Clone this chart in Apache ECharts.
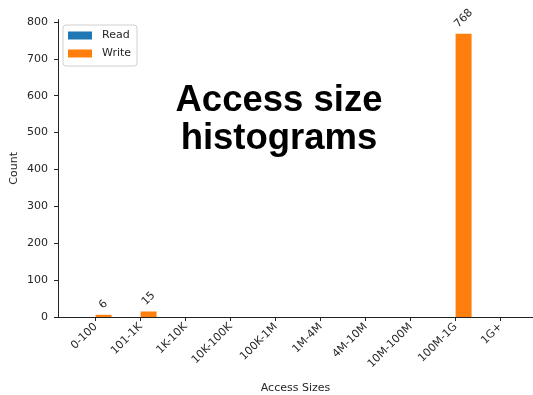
<!DOCTYPE html>
<html>
<head>
<meta charset="utf-8">
<script src="https://cdn.jsdelivr.net/npm/echarts@6/dist/echarts.min.js"></script>
<style>
    html, body {margin: 0; padding: 0; background: #fff;}
    #main {width: 533px; height: 395px;}
</style>
</head>
<body>
<div id="main"></div>
<script>
var categories = ['0-100', '101-1K', '1K-10K', '10K-100K', '100K-1M', '1M-4M', '4M-10M', '10M-100M', '100M-1G', '1G+'];
var readValues = [0, 0, 0, 0, 0, 0, 0, 0, 0, 0];
var writeValues = [6, 15, 0, 0, 0, 0, 0, 0, 768, 0];
var yTicks = [0, 100, 200, 300, 400, 500, 600, 700, 800];

function toPairs(values) {
    var out = [];
    for (var i = 0; i < values.length; i++) {
        out.push([i, values[i]]);
    }
    return out;
}

// rotated label sits centred above the bar, pushed up by half its rotated box
function labelledPairs(values) {
    var out = [];
    for (var i = 0; i < values.length; i++) {
        var w = String(values[i]).length * 7;
        out.push({
            value: [i, values[i]],
            label: {distance: 4 + (w + 11) * 0.3536}
        });
    }
    return out;
}

var catIdx = [];
for (var i = 0; i < categories.length; i++) catIdx.push(i);

var axisColor = '#222';
var textColor = '#262626';
var font = 'DejaVu Sans';

var myChart = echarts.init(document.getElementById('main'), null, {renderer: 'canvas'});
var option = {
    animation: false,
    backgroundColor: '#fff',
    title: {
        text: 'Access size\nhistograms',
        left: 274,
        top: 77,
        textAlign: 'center',
        textStyle: {
            fontFamily: 'Liberation Sans',
            fontWeight: 'bold',
            fontSize: 36.5,
            lineHeight: 38,
            color: '#000'
        }
    },
    legend: {
        orient: 'vertical',
        left: 63,
        top: 25,
        padding: [4, 6, 6, 5],
        itemWidth: 24,
        itemHeight: 8,
        itemGap: 5,
        borderColor: '#d0d0d0',
        borderWidth: 1,
        borderRadius: 3,
        icon: 'rect',
        textStyle: {
            fontFamily: font,
            fontSize: 11,
            lineHeight: 13,
            color: textColor,
            padding: [0, 0, 0, 5]
        },
        data: ['Read', 'Write']
    },
    grid: {
        left: 58,
        right: 0,
        top: 19.6,
        bottom: 78,
        containLabel: false,
        outerBoundsMode: 'none'
    },
    xAxis: {
        type: 'value',
        min: -0.835,
        max: 9.72,
        name: 'Access Sizes',
        nameLocation: 'middle',
        nameGap: 66,
        nameMoveOverlap: false,
        nameTextStyle: {fontFamily: font, fontSize: 11, color: textColor},
        splitLine: {show: false},
        axisLine: {show: true, onZero: false, lineStyle: {color: axisColor, width: 1}},
        axisTick: {show: true, length: 4, customValues: catIdx, lineStyle: {color: axisColor}},
        axisLabel: {
            customValues: catIdx,
            rotate: 45,
            margin: 8,
            fontFamily: font,
            fontSize: 11,
            color: textColor,
            formatter: function (v) {
                return categories[Math.round(v)];
            }
        }
    },
    yAxis: {
        type: 'value',
        min: 0,
        max: 806.4,
        name: 'Count',
        nameLocation: 'middle',
        nameGap: 38,
        nameMoveOverlap: false,
        nameTextStyle: {fontFamily: font, fontSize: 11, color: textColor},
        splitLine: {show: false},
        axisLine: {show: true, onZero: false, lineStyle: {color: axisColor, width: 1}},
        axisTick: {show: true, length: 4, customValues: yTicks, lineStyle: {color: axisColor}},
        axisLabel: {
            customValues: yTicks,
            margin: 10,
            fontFamily: font,
            fontSize: 11,
            color: textColor
        }
    },
    series: [{
        name: 'Read',
        type: 'bar',
        barWidth: 16,
        barGap: '0%',
        itemStyle: {color: '#1f77b4'},
        data: toPairs(readValues)
    }, {
        name: 'Write',
        type: 'bar',
        barWidth: 16,
        barGap: '0%',
        itemStyle: {color: '#ff7f0e'},
        label: {
            show: true,
            position: 'top',
            rotate: 45,
            align: 'center',
            verticalAlign: 'middle',
            fontFamily: font,
            fontSize: 11,
            color: textColor,
            formatter: function (p) {
                return p.value[1] > 0 ? String(p.value[1]) : '';
            }
        },
        data: labelledPairs(writeValues)
    }]
};
myChart.setOption(option, true);
</script>
</body>
</html>
